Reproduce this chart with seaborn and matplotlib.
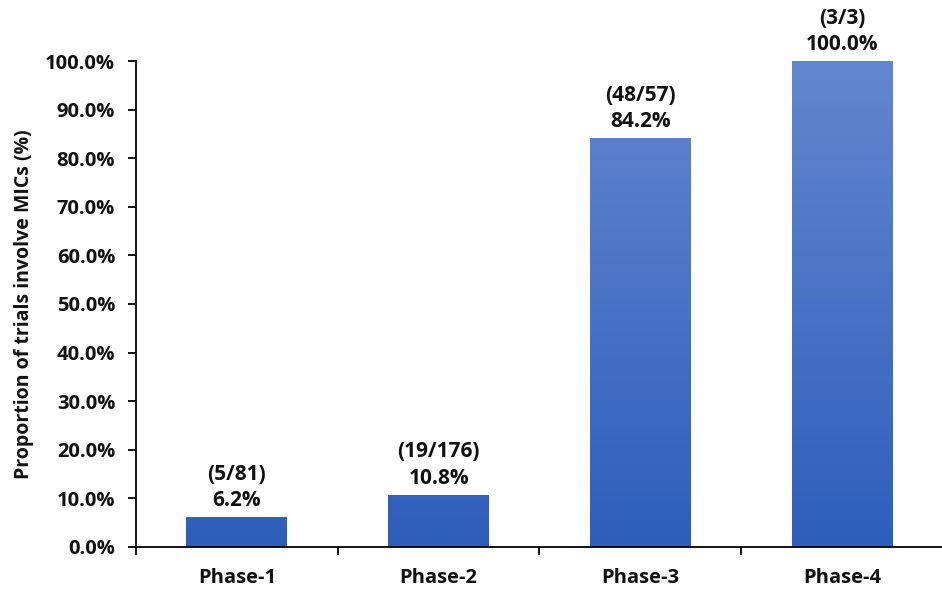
import numpy as np
import pandas as pd
import matplotlib
matplotlib.use("Agg")
import matplotlib.pyplot as plt
import seaborn as sns
from matplotlib.colors import LinearSegmentedColormap
from matplotlib.ticker import FixedLocator, FuncFormatter

phases = ["Phase-1", "Phase-2", "Phase-3", "Phase-4"]
proportions = [6.2, 10.8, 84.2, 100.0]
involved = [5, 19, 48, 3]
totals = [81, 176, 57, 3]
ylabel = "Proportion of trials involve MICs (%)"

sns.set_theme(style="white")
plt.rcParams['font.family'] = ['Open Sans', 'DejaVu Sans']
plt.rcParams['font.weight'] = 'bold'

df = pd.DataFrame({"phase": phases, "prop": proportions})

fig = plt.figure(figsize=(9.42, 5.90), dpi=100)
ax = fig.add_axes([0.1444, 0.0729, 0.8566, 0.8237])

sns.barplot(data=df, x="phase", y="prop", width=0.5, color="#4472C4", ax=ax)

cmap = LinearSegmentedColormap.from_list("g", ["#2E5EBC", "#6387CF"])
grad = np.linspace(0, 1, 256).reshape(-1, 1)
for p in ax.patches:
    x0, y0 = p.get_x(), p.get_y()
    w, h = p.get_width(), p.get_height()
    im = ax.imshow(grad, cmap=cmap, aspect="auto", origin="lower",
                   extent=[x0, x0 + w, y0, y0 + 100], zorder=2)
    im.set_clip_path(p)
    p.set_facecolor("none")
    p.set_edgecolor("none")

for i, (v, n, t) in enumerate(zip(proportions, involved, totals)):
    ax.annotate(f"({n}/{t})\n{v:.1f}%", xy=(i, v), xytext=(0, 4),
                textcoords="offset points", ha="center", va="bottom",
                fontsize=15, fontweight="bold", linespacing=1.35, color="#111111")

ax.set_xlim(-0.5, 3.5)
ax.set_ylim(0, 100)
ax.set_yticks(np.arange(0, 101, 10))
ax.yaxis.set_major_formatter(FuncFormatter(lambda v, _: f"{v:.1f}%"))
ax.tick_params(axis="y", which="major", direction="out", length=6, width=1.3,
               color="black", labelsize=14.5, pad=9, left=True)
ax.set_xticks(range(len(phases)))
ax.set_xticklabels(phases)
ax.xaxis.set_minor_locator(FixedLocator([-0.5, 0.5, 1.5, 2.5, 3.5]))
ax.tick_params(axis="x", which="major", length=0, labelsize=14.5, pad=15)
ax.tick_params(axis="x", which="minor", direction="out", length=6, width=1.3,
               color="black", bottom=True)
for lab in ax.get_xticklabels() + ax.get_yticklabels():
    lab.set_fontweight("bold")
    lab.set_color("#111111")

ax.set_xlabel("")
ax.set_ylabel(ylabel, fontsize=14, fontweight="bold", color="#111111", labelpad=8)

for s in ["top", "right"]:
    ax.spines[s].set_visible(False)
for s in ["left", "bottom"]:
    ax.spines[s].set_color("black")
    ax.spines[s].set_linewidth(1.3)
ax.grid(False)

fig.savefig("out.png", dpi=100)
